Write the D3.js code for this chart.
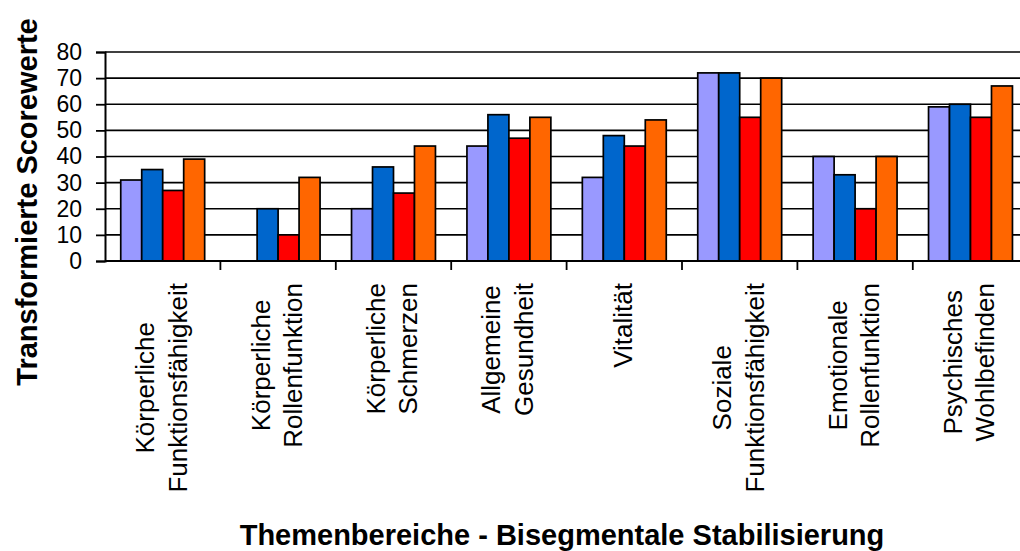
<!DOCTYPE html>
<html>
<head>
<meta charset="utf-8">
<script src="https://cdn.jsdelivr.net/npm/d3@7"></script>
<style>
  html, body { margin: 0; padding: 0; background: #fff; }
  svg { display: block; }
  text { font-family: Arial, "Liberation Sans", sans-serif; fill: #000; }
</style>
</head>
<body>
<svg id="chart" width="1020" height="551"></svg>
<script>
// SF-36 Themenbereiche, transformierte Scorewerte (0–100)
const categories = [
  ["Körperliche", "Funktionsfähigkeit"],
  ["Körperliche", "Rollenfunktion"],
  ["Körperliche", "Schmerzen"],
  ["Allgemeine", "Gesundheit"],
  ["Vitalität"],
  ["Soziale", "Funktionsfähigkeit"],
  ["Emotionale", "Rollenfunktion"],
  ["Psychisches", "Wohlbefinden"]
];
const series1 = [31, null, 20, 44, 32, 72, 40, 59];
const series2 = [35, 20, 36, 56, 48, 72, 33, 60];
const series3 = [27, 10, 26, 47, 44, 55, 20, 55];
const series4 = [39, 32, 44, 55, 54, 70, 40, 67];
const seriesColors = ["#9999FF", "#0066CC", "#FF0000", "#FF6600"];
const yTicks = [0, 10, 20, 30, 40, 50, 60, 70, 80];
const yTitle = "Transformierte Scorewerte";
const xTitle = "Themenbereiche - Bisegmentale Stabilisierung";

(function () {
  const seriesList = [series1, series2, series3, series4];
  const seriesKeys = seriesList.map((_, i) => "s" + i);
  const catKeys = categories.map(c => c.join(" "));

  const svg = d3.select("#chart");
  const plotLeft = 105, plotBottom = 261, plotTop = 52;
  const catStep = 115.4;

  const x = d3.scaleBand().domain(catKeys)
    .range([plotLeft, plotLeft + catStep * catKeys.length]).padding(0);
  const xs = d3.scaleBand().domain(seriesKeys)
    .range([0, x.bandwidth()]).paddingInner(0).paddingOuter(0.75);
  const y = d3.scaleLinear().domain([0, 80]).range([plotBottom, plotTop]);

  // horizontal gridlines
  svg.append("g").selectAll("line")
    .data(yTicks.filter(t => t > 0))
    .join("line")
    .attr("x1", plotLeft).attr("x2", 1030)
    .attr("y1", d => y(d)).attr("y2", d => y(d))
    .attr("stroke", "#000").attr("stroke-width", 1.7);

  // bars
  const rows = catKeys.map((k, ci) => ({
    key: k,
    values: seriesList.map((s, si) => ({ key: seriesKeys[si], v: s[ci], color: seriesColors[si] }))
  }));
  svg.append("g").selectAll("g")
    .data(rows)
    .join("g")
    .attr("transform", d => `translate(${x(d.key)},0)`)
    .selectAll("rect")
    .data(d => d.values.filter(v => v.v != null))
    .join("rect")
    .attr("x", d => xs(d.key))
    .attr("width", xs.bandwidth())
    .attr("y", d => y(d.v))
    .attr("height", d => y(0) - y(d.v))
    .attr("fill", d => d.color)
    .attr("stroke", "#000")
    .attr("stroke-width", 1.7);

  // y axis
  const yAxis = d3.axisLeft(y).tickValues(yTicks).tickSize(9).tickPadding(14);
  const gy = svg.append("g").attr("transform", `translate(${plotLeft},0)`).call(yAxis);
  gy.select(".domain").attr("stroke", "#000").attr("stroke-width", 2);
  gy.selectAll(".tick line").attr("stroke", "#000").attr("stroke-width", 1.8);
  gy.selectAll(".tick text")
    .style("font-size", "23px")
    .style("font-family", "Arial, 'Liberation Sans', sans-serif")
    .attr("fill", "#000");

  // x axis baseline with category separators
  const boundaries = d3.range(catKeys.length + 1).map(i => plotLeft + i * x.step());
  svg.append("line")
    .attr("x1", plotLeft).attr("x2", 1030)
    .attr("y1", plotBottom).attr("y2", plotBottom)
    .attr("stroke", "#000").attr("stroke-width", 2);
  svg.append("g").selectAll("line")
    .data(boundaries.slice(1))
    .join("line")
    .attr("x1", d => d).attr("x2", d => d)
    .attr("y1", plotBottom).attr("y2", plotBottom + 9)
    .attr("stroke", "#000").attr("stroke-width", 1.8);

  // rotated category labels, lines centred, block ending just below the axis
  const labelSize = 26, lineH = 32.5, labelTop = 283;
  const labels = svg.append("g");
  categories.forEach((lines, ci) => {
    const cx = x(catKeys[ci]) + x.bandwidth() / 2;
    const texts = lines.map(ln => labels.append("text")
      .attr("text-anchor", "middle")
      .style("font-size", labelSize + "px")
      .text(ln));
    const maxLen = d3.max(texts, t => t.node().getComputedTextLength());
    const cy = labelTop + maxLen / 2;
    texts.forEach((t, li) => {
      const bx = cx + (li - (lines.length - 1) / 2) * lineH + 7.7;
      t.attr("transform", `translate(${bx},${cy}) rotate(-90)`);
    });
  });

  // axis titles
  svg.append("text")
    .attr("transform", "translate(37,202) rotate(-90)")
    .attr("text-anchor", "middle")
    .style("font-size", "29px").style("font-weight", "bold")
    .text(yTitle);
  svg.append("text")
    .attr("x", 562).attr("y", 545)
    .attr("text-anchor", "middle")
    .style("font-size", "29px").style("font-weight", "bold")
    .text(xTitle);
})();
</script>
</body>
</html>
